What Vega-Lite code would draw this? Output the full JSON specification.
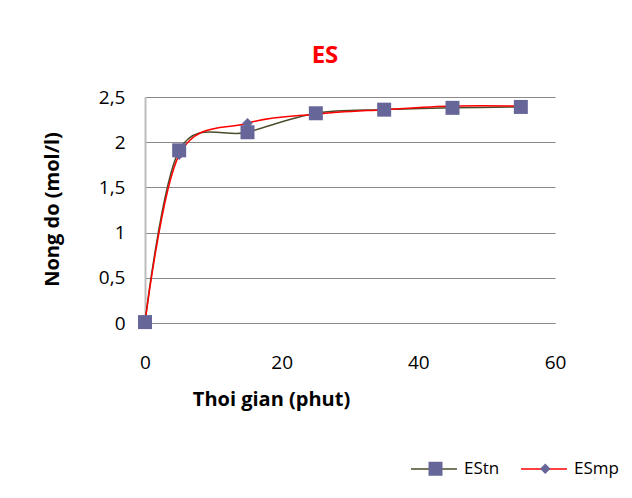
{
  "$schema": "https://vega.github.io/schema/vega-lite/v6.json",
  "width": 410,
  "height": 226,
  "autosize": {"type": "none"},
  "padding": {"left": 145, "top": 97, "right": 77, "bottom": 175},
  "background": "white",
  "title": {"text": "ES", "color": "#ff0000", "fontSize": 24, "fontWeight": "bold", "font": "Open Sans", "anchor": "middle", "dx": -25, "offset": 20},
  "config": {
    "view": {"stroke": null},
    "font": "Open Sans",
    "axis": {"labelFont": "Open Sans", "labelFontSize": 19, "labelColor": "#000000", "titleFont": "Open Sans", "titleFontSize": 20, "titleFontWeight": "bold", "titleColor": "#000000", "ticks": false, "gridColor": "#8a8a8a", "gridWidth": 1, "labelFlush": false},
    "legend": {"labelFont": "Open Sans", "labelFontSize": 17, "labelColor": "#000000"}
  },
  "data": {"values": [
    {"t": 0, "c": 0.01, "s": "EStn"},
    {"t": 5, "c": 1.91, "s": "EStn"},
    {"t": 15, "c": 2.11, "s": "EStn"},
    {"t": 25, "c": 2.32, "s": "EStn"},
    {"t": 35, "c": 2.36, "s": "EStn"},
    {"t": 45, "c": 2.38, "s": "EStn"},
    {"t": 55, "c": 2.39, "s": "EStn"},
    {"t": 0, "c": 0.0, "s": "ESmp"},
    {"t": 5, "c": 1.86, "s": "ESmp"},
    {"t": 15, "c": 2.21, "s": "ESmp"},
    {"t": 25, "c": 2.31, "s": "ESmp"},
    {"t": 35, "c": 2.36, "s": "ESmp"},
    {"t": 45, "c": 2.40, "s": "ESmp"},
    {"t": 55, "c": 2.40, "s": "ESmp"}
  ]},
  "encoding": {
    "x": {"field": "t", "type": "quantitative", "scale": {"domain": [0, 60], "nice": false},
      "axis": {"values": [0, 20, 40, 60], "grid": false, "domain": true, "domainColor": "#8a8a8a", "labelPadding": 30, "title": "Thoi gian (phut)", "titleX": 126, "titleY": 76, "titleBaseline": "middle"}},
    "y": {"field": "c", "type": "quantitative", "scale": {"domain": [0, 2.5], "nice": false},
      "axis": {"values": [0, 0.5, 1, 1.5, 2, 2.5], "grid": true, "domain": true, "domainColor": "#bdbdbd", "domainWidth": 2, "labelPadding": 20, "labelExpr": "replace(format(datum.value, '~g'), '.', ',')", "title": "Nong do (mol/l)", "titleX": -93, "titleY": 112, "titleAngle": -90, "titleBaseline": "middle", "titleAlign": "center"}}
  },
  "layer": [
    {
      "mark": {"type": "line", "interpolate": "cardinal", "strokeWidth": 1.5},
      "encoding": {
        "color": {"field": "s", "type": "nominal", "sort": "descending", "scale": {"range": ["#4b4b2b", "#ff0000"]},
          "legend": {"title": null, "orient": "none", "legendX": 265, "legendY": 348, "direction": "horizontal", "symbolType": "stroke", "symbolSize": 2116, "symbolStrokeWidth": 1.5, "labelOffset": 6, "columnPadding": 18, "padding": 0}}
      }
    },
    {
      "mark": {"type": "point", "filled": true, "opacity": 1, "color": "#666699"},
      "encoding": {
        "shape": {"field": "s", "type": "nominal", "scale": {"domain": ["EStn", "ESmp"], "range": ["square", "diamond"]},
          "legend": {"title": null, "orient": "none", "legendX": 282, "legendY": 363, "direction": "horizontal", "labelOffset": 0, "columnPadding": 92.75, "padding": 0, "labelExpr": "''", "symbolFillColor": "#666699", "symbolStrokeWidth": 0}},
        "size": {"field": "s", "type": "nominal", "scale": {"domain": ["EStn", "ESmp"], "range": [196, 110]}},
        "order": {"field": "s", "sort": "ascending"}
      }
    }
  ]
}
